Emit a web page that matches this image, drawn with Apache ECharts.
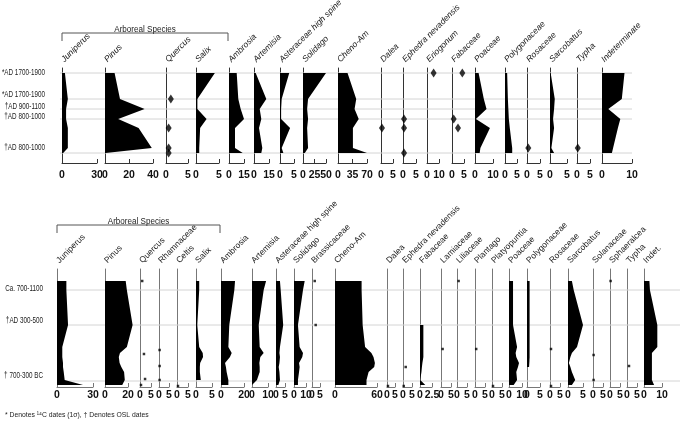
<!DOCTYPE html>
<html lang="en">
<head>
<meta charset="UTF-8">
<script src="https://cdn.jsdelivr.net/npm/echarts/dist/echarts.min.js"></script>
<title>Pollen diagram</title>
<style>
  html, body { margin: 0; padding: 0; background: #fff; }
  #main { width: 680px; height: 426px; }
</style>
</head>
<body>
<div id="main"></div>
<script>
// ---- upper profile ----
var topDepth = [5, 31, 41, 51, 60, 80, 85];
var topRows = [5, 31, 41, 51, 85];
var topRowLabelAt = [5, 27, 39, 49, 80];
var topRowLabels = ['*AD 1700-1900', '*AD 1700-1900', '\u2020AD 900-1100', '\u2020AD 800-1000', '\u2020AD 800-1000'];
var topTaxa = ['Juniperus', 'Pinus', 'Quercus', 'Salix', 'Ambrosia', 'Artemisia', 'Asteraceae high spine',
  'Solidago', 'Cheno-Am', 'Dalea', 'Ephedra nevadensis', 'Eriogonum', 'Fabaceae', 'Poaceae',
  'Polygonaceae', 'Rosaceae', 'Sarcobatus', 'Typha', 'Indeterminate'];
var topScaleMax  = [30, 40, 5, 5, 15, 15, 5, 50, 70, 5, 5, 10, 5, 10, 5, 5, 5, 5, 10];
var topScaleStep = [30, 20, 5, 5, 15, 15, 5, 25, 35, 5, 5, 10, 5, 10, 5, 5, 5, 5, 10];
var topCurves = {
  'Juniperus':             [2.5, 5, 3.5, 3.5, 5, 5, 1],
  'Pinus':                 [8, 12.5, 33, 11, 28, 39, 0.5],
  'Salix':                 [4.1, 0.3, 0.3, 2.3, 0.9, 0.7, 0.7],
  'Ambrosia':              [7.7, 9.3, 11.7, 15, 6, 6, 13.7],
  'Artemisia':             [1.7, 12.3, 5.7, 7.3, 5, 8.3, 7.3],
  'Asteraceae high spine': [3.3, 0.6, 0.4, 0.4, 3.6, 0.6, 1.2],
  'Solidago':              [50, 11, 9, 11, 9, 11, 4],
  'Cheno-Am':              [23, 44, 40, 50, 36, 36, 70],
  'Poaceae':               [2, 4.9, 6.4, 0.5, 8.3, 3, 2.6],
  'Polygonaceae':          [0.9, 1.2, 1.4, 1.6, 2, 3, 3],
  'Sarcobatus':            [0.2, 1.4, 1.2, 0.9, 1.2, 0.4, 1.2],
  'Indeterminate':         [7.5, 6.6, 2.1, 6.1, 5.3, 3.7, 3.3]
};
// [depth, value]
var topDots = {
  'Quercus':            [[31, 1.1], [60, 0.6], [80, 0.6], [85, 0.6]],
  'Dalea':              [[60, 0.4]],
  'Ephedra nevadensis': [[51, 0.4], [60, 0.4], [85, 0.4]],
  'Eriogonum':          [[5, 5.5]],
  'Fabaceae':           [[5, 4.3], [51, 0.7], [60, 2.5]],
  'Rosaceae':           [[80, 0.5]],
  'Typha':              [[80, 0.3]]
};

// ---- lower profile ----
var botDepth = [12, 21, 56, 78, 84, 88, 94, 98, 103, 111, 116];
var botRows = [21, 56, 112];
var botRowLabelAt = [20, 52, 107];
var botRowLabels = ['Ca. 700-1100', '\u2020AD 300-500', '\u2020 700-300 BC'];
var botTaxa = ['Juniperus', 'Pinus', 'Quercus', 'Rhamnaceae', 'Celtis', 'Salix', 'Ambrosia', 'Artemisia',
  'Asteraceae high spine', 'Solidago', 'Brassicaceae', 'Cheno-Am', 'Dalea', 'Ephedra nevadensis',
  'Fabaceae', 'Lamiaceae', 'Liliaceae', 'Plantago', 'Platyopuntia', 'Poaceae', 'Polygonaceae',
  'Rosaceae', 'Sarcobatus', 'Solanaceae', 'Sphaeralcea', 'Typha', 'Indet.'];
var botScaleMax = [30, 20, 5, 5, 5, 5, 20, 10, 5, 10, 5, 60, 5, 5, 2.5, 5, 5, 5, 5, 10, 5, 5, 5, 5, 5, 5, 10];
var botCurves = {
  'Juniperus':             [7.8, 7.8, 9.2, 4.4, 4.4, 4.4, 5, 5, 5.6, 6.4, 21.7],
  'Pinus':                 [18, 19, 24, 19, 13, 12, 12.7, 14.2, 16.6, 17.2, 15],
  'Salix':                 [1, 1, 0.4, 1, 2.1, 2.2, 1.3, 1.2, 1.2, 1.5, null],
  'Ambrosia':              [12.2, 11.6, 7.2, 6.4, 9.3, 7.8, 3.5, 4.3, 4.9, 6.4, 6.4],
  'Artemisia':             [8.8, 7.3, 4.2, 4.8, 7.3, 5.2, 4.6, 4.8, 4.8, 3.1, 0],
  'Asteraceae high spine': [2.2, 2.6, 4, 2.2, 1.9, 2.2, 1.9, 1.5, 1.9, 2.2, 1.3],
  'Solidago':              [8.9, 7.5, 3.3, 4.7, 7.5, 6.9, 4.2, 4.7, 4.2, 3.3, 3.3],
  'Cheno-Am':              [38, 38, 39.5, 43, 52, 55, 57, 56, 48, 45, 45],
  'Fabaceae':              [null, null, 0.7, 0.7, 0.7, 0.7, 0.5, 0.4, 0.3, 0.05, 1.1],
  'Poaceae':               [3.1, 3.1, 3.1, 6.2, 5.1, 5.6, 7.7, 6.9, 5.6, 6.2, 3.6],
  'Polygonaceae':          [1, 1, 1, 1, 1, 1, 0.9, 0.8, null, null, null],
  'Sarcobatus':            [1.3, 1.9, 5, 3, 1.3, 0.8, 0.3, 0.8, 1.3, 2.4, 1.3],
  'Indet.':                [3, 3.3, 7.4, 7.4, 4.4, 4.4, 4.4, 4.4, 4.4, 4.4, 5.6]
};
var botDots = {
  'Quercus':            [[12, 1], [85, 1.8], [110, 2.3], [116, 0.45]],
  'Rhamnaceae':         [[81, 0.3], [97, 0.3], [111, 0.3]],
  'Celtis':             [[117, 0.45]],
  'Brassicaceae':       [[12, 1.7], [56, 2.3]],
  'Dalea':              [[117, 0.6]],
  'Ephedra nevadensis': [[98, 1.5], [117, 0.4]],
  'Lamiaceae':          [[80, 0.8]],
  'Liliaceae':          [[12, 0.8]],
  'Plantago':           [[80, 0.6]],
  'Platyopuntia':       [[117, 0.5]],
  'Rosaceae':           [[80, 0.5], [117, 0.5]],
  'Solanaceae':         [[86, 0.3], [111, 0.3]],
  'Sphaeralcea':        [[12, 0.3]],
  'Typha':              [[97, 1]]
};

// ---- layout (pixels) ----
var topLeft  = [62, 105, 166, 196, 229, 254, 280, 303, 338, 381, 403, 427, 452, 475, 505, 527, 550, 577, 602];
var topWidth = [35, 48, 22, 23, 15, 15, 14, 23, 29, 12, 13, 12, 12, 18, 12, 13, 17, 13, 30];
var botLeft  = [57, 105, 140, 159, 177, 196, 221, 252, 276, 294, 312, 335, 387, 403, 420, 441, 457, 475, 492, 509, 527, 550, 568, 593, 610, 627, 644];
var botWidth = [36, 23, 11, 10, 11, 16, 23, 16, 9, 12, 8, 42, 8, 9, 12, 10, 10, 10, 10, 13, 13, 10, 15, 10, 10, 10, 18];

var sans = '"Liberation Sans", Arial, sans-serif';

var grids = [], xAxes = [], yAxes = [], series = [], graphics = [];
var rowLabelJobs = [];

function addCore(c) {
  // background grid for the dated horizons
  var bi = grids.length;
  grids.push({left: c.bgLeft, top: c.top, width: c.bgWidth, height: c.height});
  xAxes.push({type: 'value', gridIndex: bi, min: 0, max: 1, show: false});
  yAxes.push({type: 'value', gridIndex: bi, min: 0, max: c.yMax, inverse: true, show: false});
  series.push({
    type: 'custom', xAxisIndex: bi, yAxisIndex: bi, z: 1, silent: true,
    data: c.rows.map(function (d) { return [0, d]; }),
    renderItem: function (params, api) {
      var a = api.coord([0, api.value(1)]), b = api.coord([1, api.value(1)]);
      return {type: 'line', shape: {x1: a[0], y1: a[1], x2: b[0], y2: b[1]},
        style: {stroke: '#d4d4d4', lineWidth: 1}};
    }
  });
  rowLabelJobs.push({grid: bi, at: c.rowLabelAt, labels: c.rowLabels, gap: c.labelGap});

  c.taxa.forEach(function (name, i) {
    var gi = grids.length;
    grids.push({left: c.left[i], top: c.top, width: c.width[i], height: c.height});
    xAxes.push({
      type: 'value', gridIndex: gi, min: 0, max: c.max[i], interval: c.step[i],
      axisLine: {show: true, onZero: false, lineStyle: {color: c.axisColor, width: 1}},
      axisTick: {show: true, inside: true, length: 4, lineStyle: {color: c.axisColor}},
      splitLine: {show: false},
      axisLabel: {show: true, fontFamily: sans, fontWeight: 'bold', fontSize: 10.5, color: '#111', margin: c.tickMargin}
    });
    yAxes.push({
      type: 'value', gridIndex: gi, min: 0, max: c.yMax, inverse: true,
      axisLine: {show: true, onZero: false, lineStyle: {color: c.axisColor, width: 1}},
      axisTick: {show: false}, axisLabel: {show: false}, splitLine: {show: false}
    });

    var vals = c.curves[name];
    if (vals) {
      var pts = [];
      c.depth.forEach(function (d, k) { if (vals[k] != null) pts.push([vals[k], d]); });
      series.push({
        type: 'custom', xAxisIndex: gi, yAxisIndex: gi, z: 3, silent: true, data: pts,
        renderItem: function (params, api) {
          if (params.dataIndex !== 0) return null;
          var poly = [api.coord([0, pts[0][1]])];
          pts.forEach(function (p) { poly.push(api.coord(p)); });
          poly.push(api.coord([0, pts[pts.length - 1][1]]));
          return {type: 'polygon', shape: {points: poly}, style: {fill: '#000'}};
        }
      });
    }
    var dots = c.dots[name];
    if (dots) {
      series.push({
        type: 'scatter', xAxisIndex: gi, yAxisIndex: gi, z: 4, silent: true,
        symbol: c.dotSymbol, symbolSize: c.dotSize, itemStyle: {color: '#000'},
        data: dots.map(function (p) { return [p[1], p[0]]; })
      });
    }

    // rotated taxon name
    graphics.push({
      type: 'text', x: c.left[i] + 4, y: c.top - 4, rotation: Math.PI / 4,
      style: {text: name, font: c.nameFont, fill: '#222', textAlign: 'left', textVerticalAlign: 'bottom'}
    });
  });

  // Arboreal Species bracket
  var x1 = c.left[0], x2 = c.left[c.arborealEnd] - 1;
  graphics.push({
    type: 'polyline',
    shape: {points: [[x1, c.bracketY + 8], [x1, c.bracketY], [x2, c.bracketY], [x2, c.bracketY + 8]]},
    style: {stroke: '#555', lineWidth: 1, fill: null}
  });
  graphics.push({
    type: 'text', x: (x1 + x2) / 2, y: c.bracketY + 1, scaleX: 0.85,
    style: {text: 'Arboreal Species', font: '9.5px ' + sans, fill: '#222', textAlign: 'center', textVerticalAlign: 'bottom'}
  });
}

addCore({
  taxa: topTaxa, max: topScaleMax, step: topScaleStep, left: topLeft, width: topWidth,
  depth: topDepth, curves: topCurves, dots: topDots,
  rows: topRows, rowLabelAt: topRowLabelAt, rowLabels: topRowLabels,
  top: 68, height: 95, yMax: 95, bgLeft: 60, bgWidth: 572, labelGap: 15,
  axisColor: '#333', tickMargin: 7, dotSymbol: 'diamond', dotSize: [6, 9],
  nameFont: 'italic 8.5px ' + sans, arborealEnd: 4, bracketY: 33
});
addCore({
  taxa: botTaxa, max: botScaleMax, step: botScaleMax, left: botLeft, width: botWidth,
  depth: botDepth, curves: botCurves, dots: botDots,
  rows: botRows, rowLabelAt: botRowLabelAt, rowLabels: botRowLabels,
  top: 269, height: 118, yMax: 118, bgLeft: 57, bgWidth: 623, labelGap: 14,
  axisColor: '#777', tickMargin: 3, dotSymbol: 'rect', dotSize: 2.5,
  nameFont: '8.5px ' + sans, arborealEnd: 6, bracketY: 225
});

graphics.push({
  type: 'text', x: 5, y: 415, scaleX: 0.85,
  style: {text: '* Denotes \u00b9\u2074C dates (1\u03c3), \u2020 Denotes OSL dates', font: '8px ' + sans,
    fill: '#222', textAlign: 'left', textVerticalAlign: 'middle'}
});

grids.forEach(function (g) { g.outerBoundsMode = 'none'; g.containLabel = false; });

var myChart = echarts.init(document.getElementById('main'), null, {renderer: 'canvas'});
var option = {
  animation: false,
  backgroundColor: '#fff',
  grid: grids,
  xAxis: xAxes,
  yAxis: yAxes,
  series: series,
  graphic: graphics
};
myChart.setOption(option);

// horizon labels: placed through the background grid's scale, drawn condensed
rowLabelJobs.forEach(function (job) {
  job.at.forEach(function (d, k) {
    var p = myChart.convertToPixel({gridIndex: job.grid}, [0, d]);
    graphics.push({
      type: 'text', x: p[0] - job.gap, y: p[1], scaleX: 0.7,
      style: {text: job.labels[k], font: '9px ' + sans, fill: '#222', textAlign: 'right', textVerticalAlign: 'middle'}
    });
  });
});
myChart.setOption({graphic: graphics});
</script>
</body>
</html>
